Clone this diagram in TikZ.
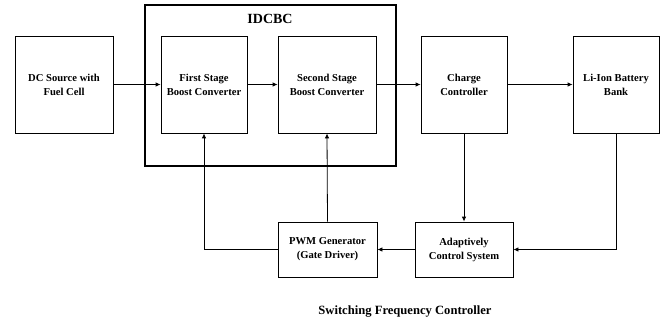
\documentclass[tikz,border=0pt]{standalone}
\usepackage{fontspec}
\setmainfont{Liberation Serif}
\usetikzlibrary{arrows.meta}
\begin{document}
\begin{tikzpicture}[x=1pt,y=-1pt,
  blk/.style={draw, line width=0.8pt, align=center, font=\fontsize{10.6}{14}\selectfont\bfseries, inner sep=0pt},
  arr/.style={line width=0.8pt, -{Latex[length=5pt,width=4.5pt]}},
  ln/.style={line width=0.8pt}]
\useasboundingbox (0,0) rectangle (668,323);
\draw[line width=1.6pt] (145,5) rectangle (396,166);
\node[font=\fontsize{14}{16}\selectfont\bfseries] (idcbc) at (270,19) {IDCBC};
\node[blk, minimum width=98pt, minimum height=97pt] (dc) at (64,84.5) {DC Source with\\Fuel Cell};
\node[blk, minimum width=86pt, minimum height=97pt] (fs) at (204,84.5) {First Stage\\Boost Converter};
\node[blk, minimum width=98pt, minimum height=97pt] (ss) at (327,84.5) {Second Stage\\Boost Converter};
\node[blk, minimum width=86pt, minimum height=97pt] (cc) at (464,84.5) {Charge\\Controller};
\node[blk, minimum width=86pt, minimum height=97pt] (li) at (616,84.5) {Li-Ion Battery\\Bank};
\node[blk, minimum width=99pt, minimum height=55pt] (pwm) at (327.5,249.5) {PWM Generator\\(Gate Driver)};
\node[blk, minimum width=98pt, minimum height=55pt] (acs) at (464,249.5) {Adaptively\\Control System};
\node[font=\fontsize{12.6}{15}\selectfont\bfseries] (sfc) at (405,312) {Switching Frequency Controller};
\draw[arr] (dc.east) -- (fs.west);
\draw[arr] (fs.east) -- (ss.west);
\draw[arr] (ss.east) -- (cc.west);
\draw[arr] (cc.east) -- (li.west);
\draw[arr] (cc.south) -- (acs.north);
\draw[arr] (li.south) |- (acs.east);
\draw[arr] (acs.west) -- (pwm.east);
\draw[arr] (pwm.west) -| (fs.south);
\draw[arr] (pwm.north) -- (ss.south);
\end{tikzpicture}
\end{document}
